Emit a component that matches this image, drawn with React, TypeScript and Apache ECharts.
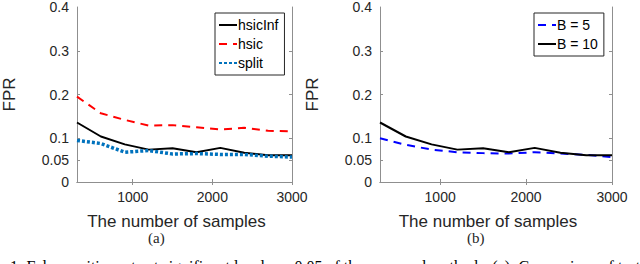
import React, { useEffect, useRef } from "react";
import * as echarts from "echarts";

const samples = [300, 600, 900, 1200, 1500, 1800, 2100, 2400, 2700, 3000];
const hsicInf = [0.136, 0.104, 0.086, 0.074, 0.077, 0.068, 0.078, 0.067, 0.061, 0.061];
const hsic = [0.195, 0.157, 0.142, 0.129, 0.13, 0.125, 0.12, 0.124, 0.117, 0.116];
const split = [0.095, 0.088, 0.068, 0.072, 0.064, 0.065, 0.063, 0.063, 0.059, 0.057];
const b5 = [0.1, 0.085, 0.074, 0.068, 0.066, 0.065, 0.068, 0.065, 0.062, 0.057];
const b10 = [0.136, 0.104, 0.086, 0.074, 0.077, 0.068, 0.078, 0.067, 0.061, 0.061];

const xTickLabels = [1000, 2000, 3000];
const yTickLabels = [0, 0.05, 0.1, 0.2, 0.3, 0.4];
const yTicks = [0.05, 0.1, 0.2, 0.3];

const xLabel = "The number of samples";
const yLabel = "FPR";
const caption =
  "1: False positive rate at significant level \u03b1 = 0.05 of the proposed methods. (a): Comparison of test";

const TEXT = "#262626";
const AXIS = "#8f8f8f";
const FONT = "'Liberation Sans', Arial, Helvetica, sans-serif";
const SERIF = "'Liberation Serif', 'DejaVu Serif', serif";

function pair(arr: number[]) {
  return samples.map((s, i) => [s, arr[i]]);
}

export default function App() {
  const ref = useRef<HTMLDivElement>(null);
  useEffect(() => {
    document.body.style.margin = "0";
    const chart = echarts.init(ref.current!, null, { renderer: "svg" });

    const xBottom = (gridIndex: number) => ({
      type: "value",
      gridIndex,
      position: "bottom",
      min: 300,
      max: 3000,
      name: xLabel,
      nameLocation: "middle",
      nameGap: 31,
      nameTextStyle: { color: TEXT, fontSize: 17, fontFamily: FONT, padding: [0, 16, 0, 0] },
      axisLine: { show: true, lineStyle: { color: AXIS, width: 1 } },
      axisTick: { show: true, inside: true, length: 3, customValues: xTickLabels, lineStyle: { color: AXIS } },
      axisLabel: {
        color: TEXT,
        fontSize: 14,
        fontFamily: FONT,
        margin: 8,
        customValues: xTickLabels,
        formatter: (v: number) => String(v),
      },
      splitLine: { show: false },
    });
    const xTop = (gridIndex: number) => ({
      type: "value",
      gridIndex,
      position: "top",
      min: 300,
      max: 3000,
      axisLine: { show: true, lineStyle: { color: AXIS, width: 1 } },
      axisTick: { show: true, inside: true, length: 3, customValues: xTickLabels, lineStyle: { color: AXIS } },
      axisLabel: { show: false },
      splitLine: { show: false },
    });
    const yLeft = (gridIndex: number) => ({
      type: "value",
      gridIndex,
      position: "left",
      min: 0,
      max: 0.4,
      name: yLabel,
      nameLocation: "middle",
      nameGap: 59,
      nameRotate: 90,
      nameTextStyle: { color: TEXT, fontSize: 17, fontFamily: FONT },
      axisLine: { show: true, lineStyle: { color: AXIS, width: 1 } },
      axisTick: { show: true, inside: true, length: 3, customValues: yTicks, lineStyle: { color: AXIS } },
      axisLabel: {
        color: TEXT,
        fontSize: 14,
        fontFamily: FONT,
        margin: 8,
        customValues: yTickLabels,
        formatter: (v: number) => String(v),
      },
      splitLine: { show: false },
    });
    const yRight = (gridIndex: number) => ({
      type: "value",
      gridIndex,
      position: "right",
      min: 0,
      max: 0.4,
      axisLine: { show: true, lineStyle: { color: AXIS, width: 1 } },
      axisTick: { show: true, inside: true, length: 3, customValues: yTicks, lineStyle: { color: AXIS } },
      axisLabel: { show: false },
      splitLine: { show: false },
    });

    const line = (
      name: string,
      data: number[],
      color: string,
      type: any,
      width: number,
      xi: number,
      yi: number
    ) => ({
      name,
      type: "line",
      xAxisIndex: xi,
      yAxisIndex: yi,
      data: pair(data),
      symbol: "none",
      lineStyle: { color, width, type, cap: "butt" },
      itemStyle: { color },
      z: 2,
    });

    const legendBase = {
      orient: "vertical",
      itemWidth: 18,
      itemHeight: 14,
      itemGap: 5,
      backgroundColor: "#fff",
      borderColor: "#262626",
      borderWidth: 1,
      borderRadius: 0,
      padding: [5, 6, 5, 3],
      textStyle: { color: "#000", fontSize: 14, fontFamily: FONT, padding: [0, 0, 0, -4] },
      itemStyle: { opacity: 0 },
    };

    chart.setOption({
      animation: false,
      backgroundColor: "#fff",
      grid: [
        { left: 60, top: 5, width: 232, height: 177, containLabel: false },
        { left: 380, top: 5, width: 232, height: 177, containLabel: false },
      ],
      xAxis: [xBottom(0), xTop(0), xBottom(1), xTop(1)],
      yAxis: [yLeft(0), yRight(0), yLeft(1), yRight(1)],
      legend: [
        { ...legendBase, left: 215, top: 13, data: ["hsicInf", "hsic", "split"] },
        { ...legendBase, left: 534, top: 13, data: ["B = 5", "B = 10"] },
      ],
      series: [
        line("hsicInf", hsicInf, "#000000", "solid", 2, 0, 0),
        line("hsic", hsic, "#ff0000", [8, 6], 2, 0, 0),
        line("split", split, "#0072bd", [3, 2], 3.5, 0, 0),
        line("B = 5", b5, "#0000ff", [8, 6], 2, 2, 2),
        line("B = 10", b10, "#000000", "solid", 2, 2, 2),
      ],
      graphic: [
        {
          type: "text",
          left: 148,
          top: 230,
          style: { text: "(a)", fill: TEXT, font: `15px ${SERIF}` },
        },
        {
          type: "text",
          left: 467,
          top: 230,
          style: { text: "(b)", fill: TEXT, font: `15px ${SERIF}` },
        },
        {
          type: "text",
          left: 10,
          top: 258,
          style: { text: caption, fill: "#000", font: `16px ${SERIF}` },
        },
      ],
    });
    return () => chart.dispose();
  }, []);
  return <div ref={ref} style={{ width: 640, height: 264 }} />;
}
